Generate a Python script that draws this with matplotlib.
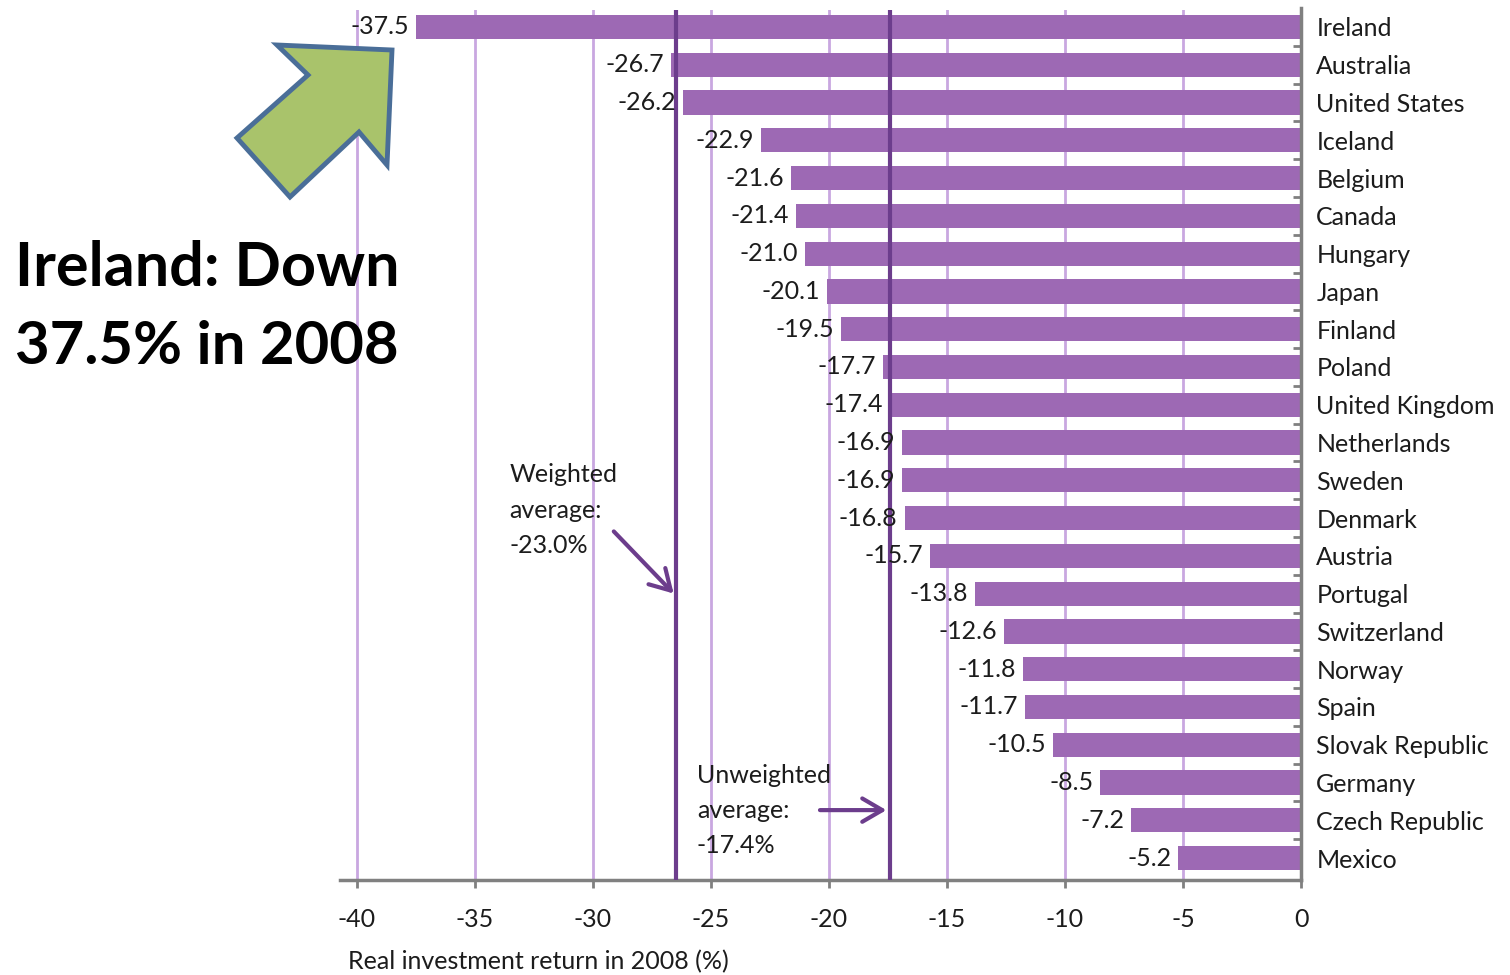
import numpy as np
import matplotlib
matplotlib.use('Agg')
import matplotlib.pyplot as plt
from matplotlib.patches import Polygon

# 2008 real investment returns of pension funds (%)
countries = ["Ireland", "Australia", "United States", "Iceland", "Belgium", "Canada",
             "Hungary", "Japan", "Finland", "Poland", "United Kingdom", "Netherlands",
             "Sweden", "Denmark", "Austria", "Portugal", "Switzerland", "Norway", "Spain",
             "Slovak Republic", "Germany", "Czech Republic", "Mexico"]
returns = [-37.5, -26.7, -26.2, -22.9, -21.6, -21.4, -21.0, -20.1, -19.5, -17.7, -17.4,
           -16.9, -16.9, -16.8, -15.7, -13.8, -12.6, -11.8, -11.7, -10.5, -8.5, -7.2, -5.2]
x_ticks = [-40, -35, -30, -25, -20, -15, -10, -5, 0]

weighted_label = "Weighted\naverage:\n-23.0%"
weighted_line = -26.5
unweighted_label = "Unweighted\naverage:\n-17.4%"
unweighted_line = -17.4

BAR = '#9d69b4'
GRID = '#c9a7e0'
AVG = '#6c3d8c'
SPINE = '#808080'
TXT = '#1c1c1c'
FS = 18

plt.rcParams['font.family'] = ['Lato', 'DejaVu Sans']

W, H = 1510, 975
fig = plt.figure(figsize=(W / 100, H / 100), dpi=100)
ax = fig.add_axes([340 / W, 1 - 880 / H, (1301 - 340) / W, (880 - 10) / H])

y = np.arange(len(countries))
for gx in x_ticks[:-1]:
    ax.axvline(gx, color=GRID, lw=2, zorder=1)

ax.barh(y, returns, height=0.64, color=BAR, zorder=2)

for yi, v in zip(y, returns):
    ax.annotate(f"{v:.1f}", (v, yi), xytext=(-5, 0), textcoords='offset points',
                ha='right', va='center', fontsize=FS, color=TXT, zorder=4)

ax.axvline(weighted_line, color=AVG, lw=3, zorder=3)
ax.axvline(unweighted_line, color=AVG, lw=3, zorder=3)

ax.text(-33.55, 11.55, weighted_label, ha='left', va='top', fontsize=FS,
        color=TXT, linespacing=1.65, zorder=4)
ax.annotate("", xy=(weighted_line, 15.05), xytext=(-29.2, 13.3),
            arrowprops=dict(arrowstyle='->,head_length=0.6,head_width=0.35',
                            color=AVG, lw=3, mutation_scale=24), zorder=4)
ax.text(-25.6, 19.5, unweighted_label, ha='left', va='top', fontsize=FS,
        color=TXT, linespacing=1.65, zorder=4)
ax.annotate("", xy=(unweighted_line - 0.05, 20.73), xytext=(-20.5, 20.73),
            arrowprops=dict(arrowstyle='->,head_length=0.6,head_width=0.35',
                            color=AVG, lw=3, mutation_scale=24), zorder=4)

ax.set_xlim(-40.72, 0)
ax.set_ylim(22.58, -0.45)
ax.set_xticks(x_ticks)
ax.set_xticklabels([str(t) for t in x_ticks], fontsize=FS, color=TXT)
ax.tick_params(axis='x', length=6, width=2, color=SPINE, pad=14)

ax.yaxis.tick_right()
ax.set_yticks(y)
ax.set_yticklabels(countries, fontsize=FS, color=TXT)
ax.set_yticks(y[:-1] + 0.5, minor=True)
ax.tick_params(axis='y', which='major', length=0, pad=11)
ax.tick_params(axis='y', which='minor', length=6, width=2, color=SPINE, direction='in')

for s in ['top', 'left']:
    ax.spines[s].set_visible(False)
for s in ['bottom', 'right']:
    ax.spines[s].set_color(SPINE)
    ax.spines[s].set_linewidth(2.5)
ax.spines['right'].set_bounds(22.58, -0.5)

ax.set_xlabel("Real investment return in 2008 (%)", fontsize=FS, color=TXT)
ax.xaxis.set_label_coords(0.0085, -0.08)
ax.xaxis.label.set_ha('left')

# green callout arrow pointing at Ireland
pts = [(277, 45), (392, 50), (387, 165), (359, 132), (290, 197), (237, 138), (308, 75)]
fig_pts = [(px / W, 1 - py / H) for px, py in pts]
fig.patches.append(Polygon(fig_pts, closed=True, facecolor='#a9c36b', edgecolor='#4a6e98',
                           lw=3.5, transform=fig.transFigure, zorder=10))

fig.text(15 / W, 1 - 268 / H, "Ireland: Down", fontsize=44, fontweight='bold',
         color='black', ha='left', va='center')
fig.text(15 / W, 1 - 347 / H, "37.5% in 2008", fontsize=43, fontweight='bold',
         color='black', ha='left', va='center')

fig.savefig('out.png', dpi=100)
